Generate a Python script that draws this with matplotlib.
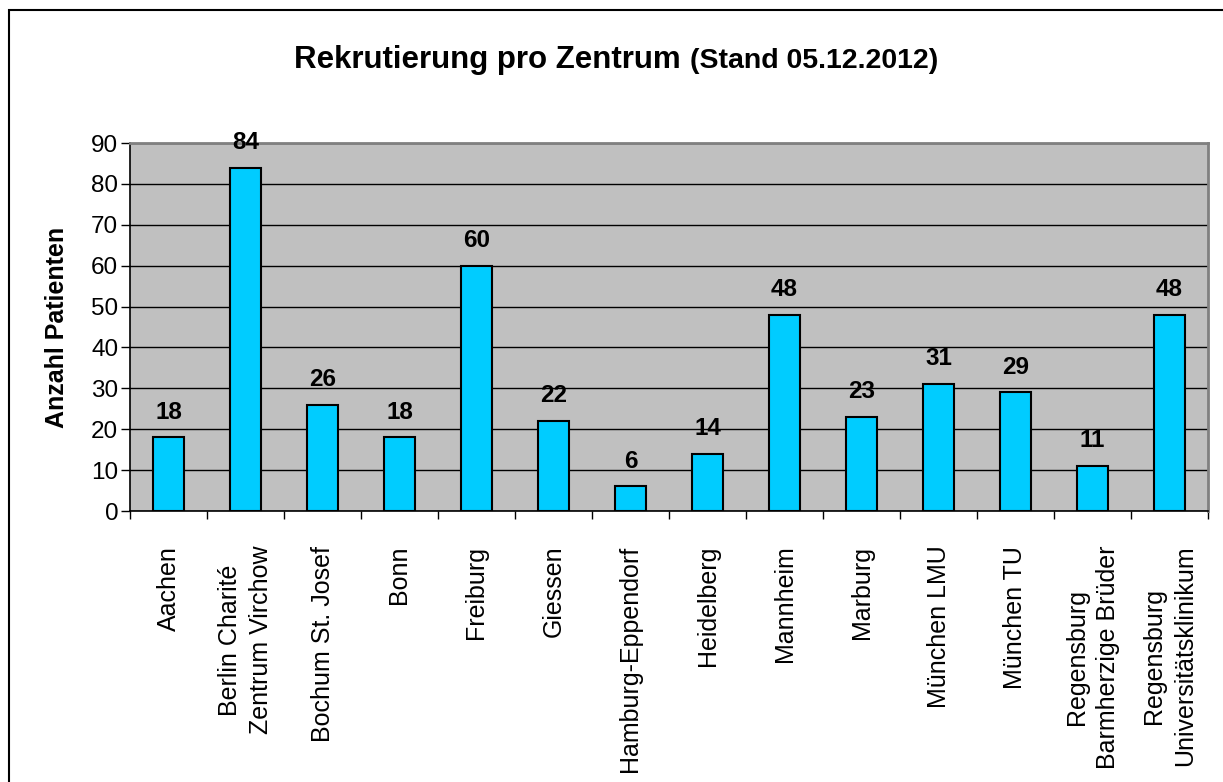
import matplotlib
matplotlib.use("Agg")
import matplotlib.pyplot as plt
from matplotlib.patches import Rectangle
import numpy as np

plt.rcParams['font.family'] = ['Liberation Sans', 'DejaVu Sans']

centers = ["Aachen", "Berlin Charité\nZentrum Virchow", "Bochum St. Josef", "Bonn",
           "Freiburg", "Giessen", "Hamburg-Eppendorf", "Heidelberg", "Mannheim",
           "Marburg", "München LMU", "München TU", "Regensburg\nBarmherzige Brüder",
           "Regensburg\nUniversitätsklinikum"]
patients = [18, 84, 26, 18, 60, 22, 6, 14, 48, 23, 31, 29, 11, 48]
yticks = [0, 10, 20, 30, 40, 50, 60, 70, 80, 90]

W, H = 1223, 782
fig = plt.figure(figsize=(W / 100, H / 100), dpi=100)
fig.patch.set_facecolor('white')

# outer chart border (runs off right/bottom edges)
fig.patches.append(Rectangle((9 / W, -0.05), 1.2, 1 - 10 / H + 0.05, transform=fig.transFigure,
                             fill=False, edgecolor='black', linewidth=1.5, zorder=0))

left, right, top, bottom = 130 / W, 1208 / W, 1 - 143 / H, 1 - 511 / H
ax = fig.add_axes([left, bottom, right - left, top - bottom])
ax.set_facecolor('#C0C0C0')

x = np.arange(len(centers))
ax.bar(x, patients, width=0.41, color='#00CCFF', edgecolor='black', linewidth=1.5, zorder=3)

for xi, v in zip(x, patients):
    ax.annotate(str(v), (xi, v), xytext=(0, 13.5), textcoords='offset points',
                ha='center', va='baseline', fontsize=17.5, fontweight='bold', zorder=4)

ax.set_xlim(-0.5, len(centers) - 0.5)
ax.set_ylim(0, 90)
ax.set_yticks(yticks)
ax.set_yticklabels([str(t) for t in yticks], fontsize=17.5)
ax.yaxis.grid(True, color='black', linewidth=1.0, zorder=1)
ax.set_axisbelow(True)
ax.tick_params(axis='y', direction='out', length=6.5, width=1, pad=2)

ax.set_xticks(np.arange(-0.5, len(centers), 1.0))
ax.set_xticklabels([])
ax.tick_params(axis='x', direction='out', length=6, width=1)

for xi, lab in zip(x, centers):
    ax.annotate(lab, (xi, 0), xycoords=('data', 'axes fraction'), xytext=(0, -25),
                textcoords='offset points', rotation=90, ha='center', va='top',
                multialignment='center', fontsize=18, linespacing=1.35)

ax.set_ylabel('Anzahl Patienten', fontsize=18, fontweight='bold', labelpad=16)

for s in ['left', 'bottom']:
    ax.spines[s].set_color('black')
    ax.spines[s].set_linewidth(1.2)
for s in ['top', 'right']:
    ax.spines[s].set_color('#808080')
    ax.spines[s].set_linewidth(2)

# two-size title
fig.canvas.draw()
r = fig.canvas.get_renderer()
t1 = fig.text(0, 1 - 68 / H, 'Rekrutierung pro Zentrum ', fontsize=22.5, fontweight='bold',
              ha='left', va='baseline')
t2 = fig.text(0, 1 - 68 / H, '(Stand 05.12.2012)', fontsize=20.5, fontweight='bold',
              ha='left', va='baseline')
w1 = t1.get_window_extent(r).width
w2 = t2.get_window_extent(r).width
start = 616 - (w1 + w2) / 2
t1.set_x(start / W)
t2.set_x((start + w1) / W)

fig.savefig('out.png', dpi=100)
